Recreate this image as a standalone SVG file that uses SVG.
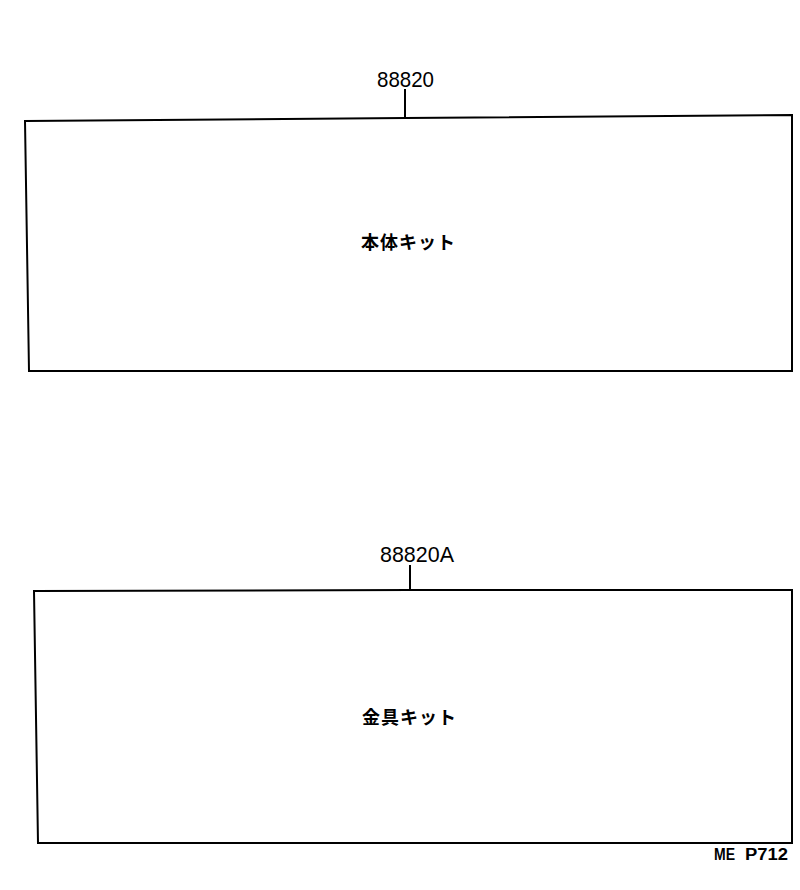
<svg xmlns="http://www.w3.org/2000/svg" width="800" height="890" viewBox="0 0 800 890">
<style>
.box{fill:none;stroke:#000;stroke-width:2;stroke-linejoin:miter}
.lead{stroke:#000;stroke-width:2}
.num{font-family:"Liberation Sans",Arial,sans-serif;font-size:22px;fill:#000}
.jp{font-family:"Noto Sans CJK JP","Noto Sans CJK SC",sans-serif;font-size:18px;font-weight:bold;fill:#000}
.code{font-family:"Liberation Sans",Arial,sans-serif;font-size:16px;font-weight:bold;fill:#000}
</style>
<rect width="800" height="890" fill="#fff"/>
<g id="node-88820">
<path class="box" d="M25,121 L405,118 L792,115 L792,371 L29,371 Z"/>
<text class="num" x="377" y="87" textLength="57" lengthAdjust="spacingAndGlyphs">88820</text>
<text class="jp" x="361" y="249" textLength="94" lengthAdjust="spacing">本体キット</text>
</g>
<g id="node-88820A">
<path class="box" d="M34,591 L410,590 L792,590 L792,843 L38,843 Z"/>
<text class="num" x="380" y="562" textLength="74" lengthAdjust="spacingAndGlyphs">88820A</text>
<text class="jp" x="362" y="724" textLength="94" lengthAdjust="spacing">金具キット</text>
</g>
<g id="connectors">
<line class="lead" x1="405" y1="89" x2="405" y2="118"/>
<line class="lead" x1="410" y1="565" x2="410" y2="590"/>
</g>
<text class="code" x="714" y="860"><tspan textLength="21" lengthAdjust="spacingAndGlyphs">ME</tspan><tspan x="745" textLength="43" lengthAdjust="spacingAndGlyphs">P712</tspan></text>
</svg>
